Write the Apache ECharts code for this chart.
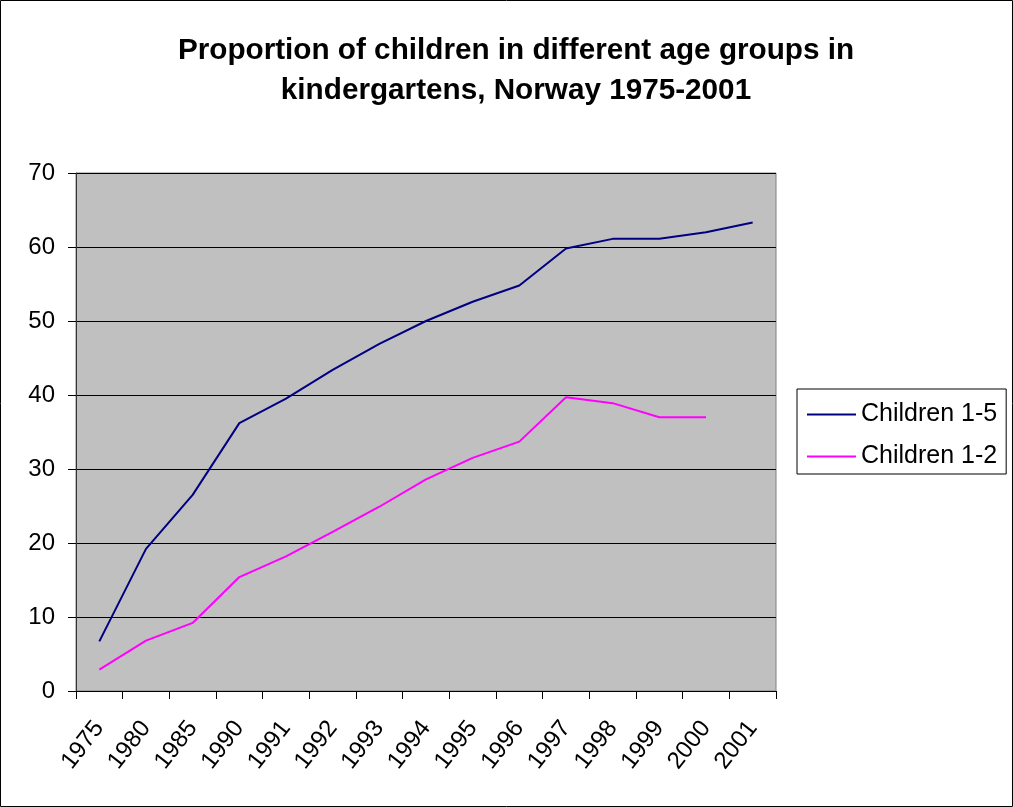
<!DOCTYPE html>
<html>
<head>
<meta charset="utf-8">
<script src="https://cdn.jsdelivr.net/npm/echarts@6/dist/echarts.min.js"></script>
<style>
html,body{margin:0;padding:0;background:#fff;}
#chart{width:1013px;height:807px;}
</style>
</head>
<body>
<div id="chart"></div>
<script>
const categories = ['1975','1980','1985','1990','1991','1992','1993','1994','1995','1996','1997','1998','1999','2000','2001'];
const children15 = [6.7, 19.2, 26.5, 36.2, 39.5, 43.4, 46.9, 50.0, 52.6, 54.8, 59.8, 61.1, 61.1, 62.0, 63.3];
const children12 = [2.9, 6.8, 9.2, 15.4, 18.2, 21.5, 24.9, 28.6, 31.5, 33.7, 39.7, 38.9, 37.0, 37.0, null];
const yTicks = [0, 10, 20, 30, 40, 50, 60, 70];

const chart = echarts.init(document.getElementById('chart'));
chart.setOption({
  animation: false,
  backgroundColor: '#ffffff',
  title: {
    text: 'Proportion of children in different age groups in\nkindergartens, Norway 1975-2001',
    left: 511, top: 26, textAlign: 'center',
    textStyle: {fontFamily: 'Liberation Sans, Arial', fontWeight: 'bold', fontSize: 29.7, lineHeight: 40, color: '#000'}
  },
  graphic: [{
    type: 'rect', shape: {x: 0.5, y: 0.5, width: 1012, height: 806},
    style: {fill: 'none', stroke: '#000', lineWidth: 1}, silent: true
  }],
  legend: {
    orient: 'vertical', left: 797, top: 389,
    padding: [13, 9, 5, 10], itemGap: 17,
    itemWidth: 49, itemHeight: 2,
    borderColor: '#000', borderWidth: 1,
    icon: 'rect',
    textStyle: {fontFamily: 'Liberation Sans, Arial', fontSize: 25, color: '#000'},
    data: ['Children 1-5', 'Children 1-2']
  },
  grid: {
    left: 76, top: 173, width: 700, height: 518,
    show: true, backgroundColor: '#c0c0c0', borderColor: '#808080', borderWidth: 1
  },
  xAxis: {
    type: 'category', data: categories, boundaryGap: true,
    axisLine: {lineStyle: {color: '#000', width: 1}},
    axisTick: {show: true, length: 8, lineStyle: {color: '#000'}},
    axisLabel: {rotate: 52, fontFamily: 'Liberation Sans, Arial', fontSize: 24, color: '#000', margin: 33, interval: 0}
  },
  yAxis: {
    type: 'value', min: 0, max: 70, interval: 10,
    axisLine: {show: true, lineStyle: {color: '#333', width: 1}},
    axisTick: {show: true, length: 8, lineStyle: {color: '#000'}},
    axisLabel: {fontFamily: 'Liberation Sans, Arial', fontSize: 24, color: '#000', margin: 21,
      formatter: v => yTicks.includes(v) ? String(v) : ''},
    splitLine: {show: true, lineStyle: {color: '#000', width: 1}}
  },
  series: [
    {name: 'Children 1-5', type: 'line', data: children15, symbol: 'none',
     lineStyle: {color: '#000080', width: 2}, itemStyle: {color: '#000080'}},
    {name: 'Children 1-2', type: 'line', data: children12, symbol: 'none',
     lineStyle: {color: '#ff00ff', width: 2}, itemStyle: {color: '#ff00ff'}}
  ]
});
</script>
</body>
</html>
